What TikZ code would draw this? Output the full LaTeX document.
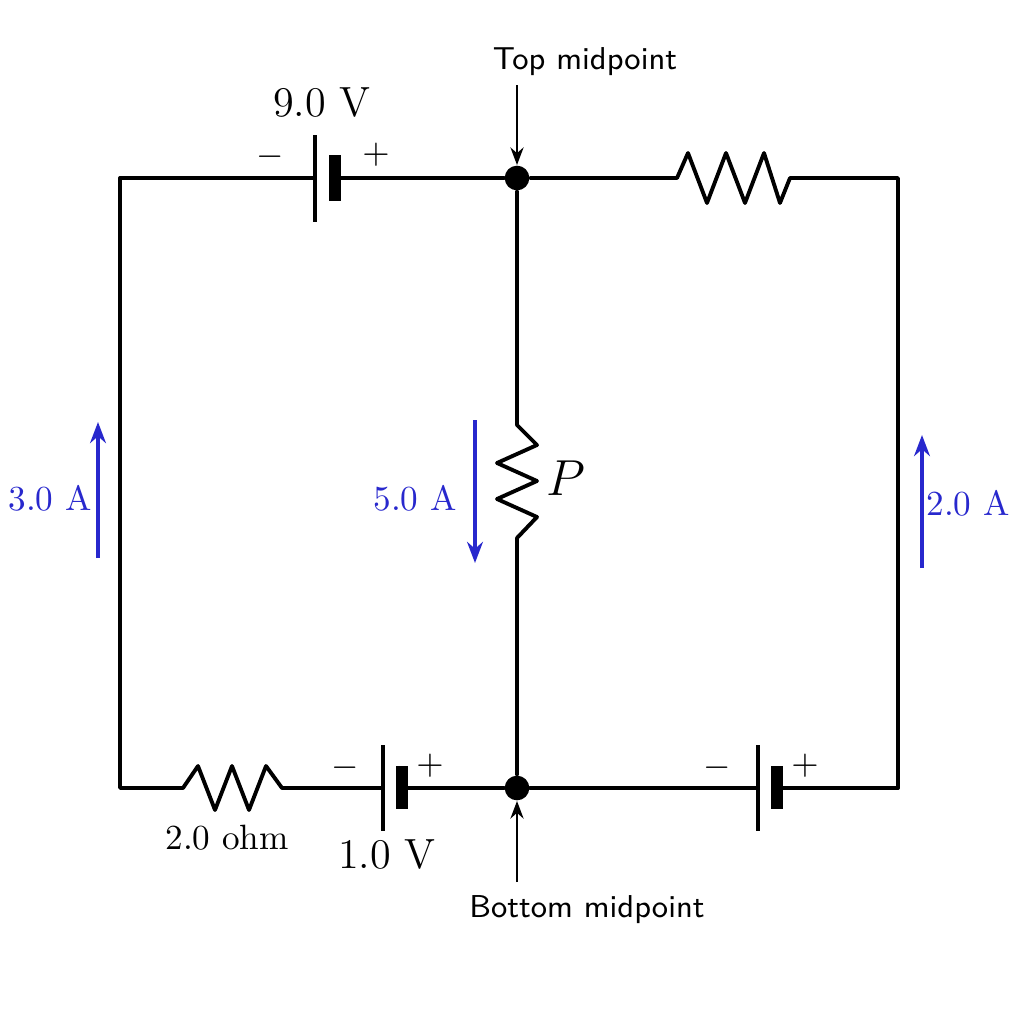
\documentclass[tikz,border=0pt]{standalone}
\usepackage{tikz}
\usetikzlibrary{calc,positioning,arrows.meta}
\definecolor{curblue}{RGB}{40,40,205}
\begin{document}
\begin{tikzpicture}[x=0.01cm,y=-0.01cm,
    wire/.style={line width=1.1pt,line cap=round,line join=round},
    plate/.style={line width=1.1pt},
    thickplate/.style={line width=3.2pt},
    dot/.style={circle,fill,inner sep=0pt,minimum size=7pt},
    cur/.style={curblue,line width=1pt,-{Stealth[length=6pt]}},
    curlabel/.style={curblue,font=\normalsize},
    pointer/.style={line width=0.6pt,-{Stealth[length=5pt]}},
    sign/.style={font=\normalsize}]
  \useasboundingbox (0,0) rectangle (1024,1024);

  % corners and junctions
  \coordinate (tl) at (120,178);
  \coordinate (bl) at (120,788);
  \coordinate (tr) at (898,178);
  \coordinate (br) at (898,788);
  \node[dot] (top) at (517,178) {};
  \node[dot] (bot) at (517,788) {};

  % top branch: 9.0 V cell and resistor
  \coordinate (c1a) at (315,178);
  \coordinate (c1b) at (335,178);
  \draw[wire] (tl) -- (c1a);
  \draw[plate] (315,135) -- (315,222);
  \draw[thickplate] (335,155) -- (335,201);
  \draw[wire] (c1b) -- (top);
  \node[sign] at (270,157) {$-$};
  \node[sign] at (376,155) {$+$};
  \node[font=\large] (v9) at (322,103) {9.0 V};

  \coordinate (r1a) at (677,178);
  \coordinate (r1b) at (790,178);
  \draw[wire] (top) -- (r1a) -- (688,153) -- (707,203) -- (726,153) -- (745,203)
    -- (764,153) -- (780,203) -- (r1b) -- (tr) -- (br);

  % middle branch: resistor P
  \coordinate (rpa) at (517,425);
  \coordinate (rpb) at (517,538);
  \draw[wire] (top) -- (rpa) -- (537,445) -- (497,463) -- (537,481) -- (497,499)
    -- (537,517) -- (rpb) -- (bot);
  \node[font=\Large] (P) at (566,478) {$P$};

  % bottom branch
  \coordinate (r2a) at (183,788);
  \coordinate (r2b) at (282,788);
  \draw[wire] (tl) -- (bl) -- (r2a) -- (198,766) -- (215,810) -- (232,766) -- (249,810)
    -- (266,766) -- (r2b) -- (383,788);
  \node[font=\normalsize] (ohm) at (227,838) {2.0 ohm};
  \draw[plate] (383,745) -- (383,831);
  \draw[thickplate] (402,766) -- (402,809);
  \draw[wire] (402,788) -- (bot) -- (758,788);
  \node[sign] at (345,768) {$-$};
  \node[sign] at (430,766) {$+$};
  \node[font=\large] (v1) at (387,855) {1.0 V};
  \draw[plate] (758,745) -- (758,831);
  \draw[thickplate] (777,766) -- (777,809);
  \draw[wire] (777,788) -- (br);
  \node[sign] at (717,768) {$-$};
  \node[sign] at (805,766) {$+$};

  % currents
  \draw[cur] (98,558) -- (98,422);
  \node[curlabel] at (50,498) {3.0 A};
  \draw[cur] (475,420) -- (475,563);
  \node[curlabel] at (415,498) {5.0 A};
  \draw[cur] (922,568) -- (922,435);
  \node[curlabel] at (968,503) {2.0 A};

  % labels of junctions
  \node[font=\sffamily\small] (toplab) at (585,62) {Top midpoint};
  \coordinate (tpa) at (517,85);
  \draw[pointer] (tpa) -- (top);
  \node[font=\sffamily\small] (botlab) at (587,910) {Bottom midpoint};
  \coordinate (bpa) at (517,882);
  \draw[pointer] (bpa) -- (bot);
\end{tikzpicture}
\end{document}
